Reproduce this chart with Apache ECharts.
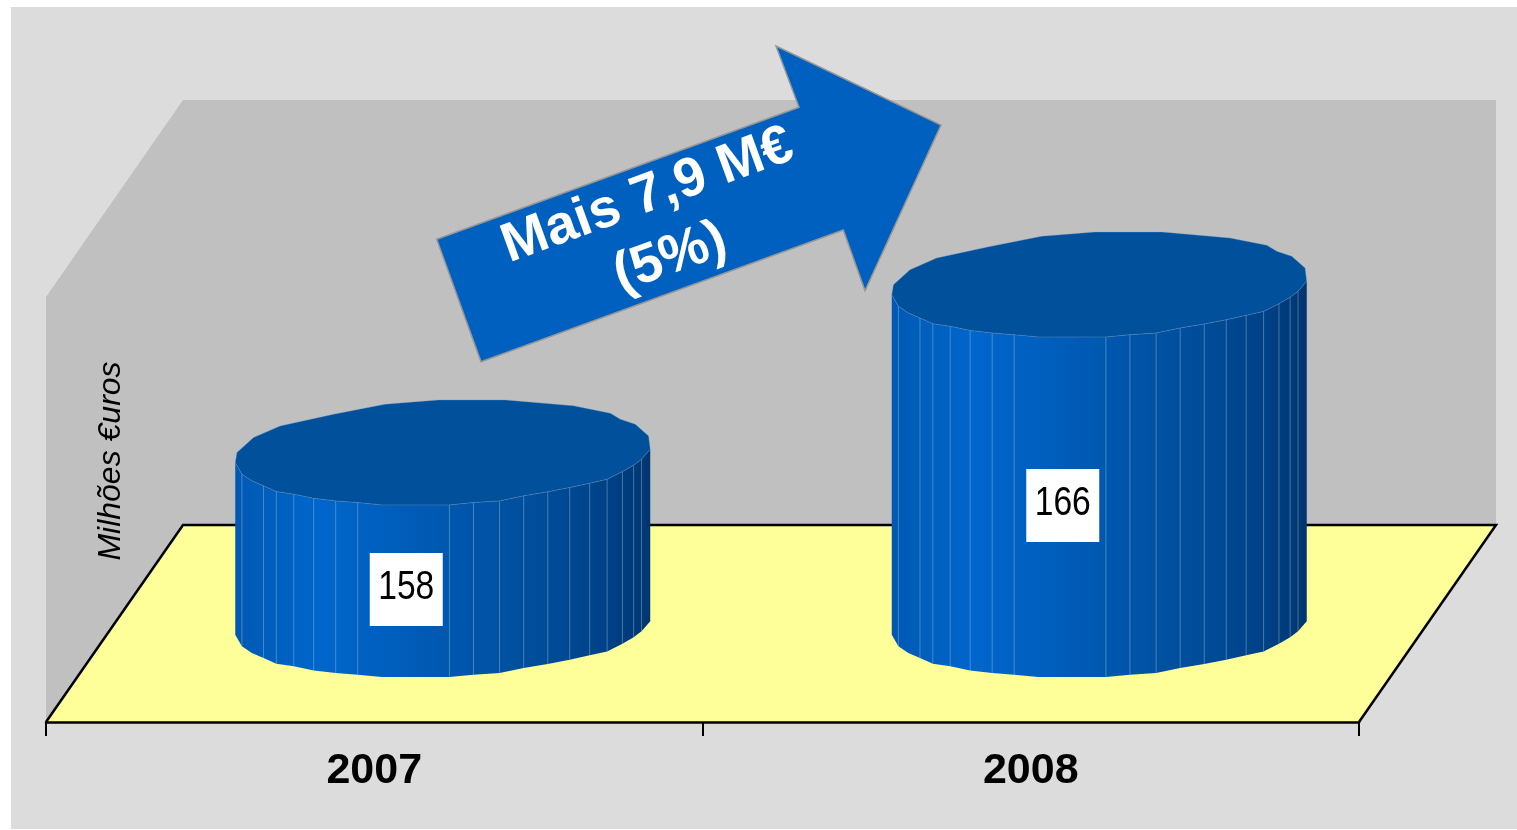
<!DOCTYPE html>
<html>
<head>
<meta charset="utf-8">
<title>Milhões €uros</title>
<script src="https://cdn.jsdelivr.net/npm/echarts@6/dist/echarts.min.js"></script>
<style>
  html, body { margin: 0; padding: 0; background: #fff; }
  #chart { width: 1517px; height: 830px; }
</style>
</head>
<body>
<div id="chart"></div>
<script>
// dados do grafico
var categories = ['2007', '2008'];
var values = [158.1, 166.0];
var axisMin = 150;
var axisMax = 170;

// perspectiva do chao (px)
var DEPTH_X = 137;
var DEPTH_Y = 197;
var CYL_W = 415;
var CYL_H = 105;

// contorno do cilindro (facetado como no original), u/v entre 0 e 1
// [u, v, tem linha]
var frontEdge = [
  [0, .597, 0], [.016, .708, 1], [.04, .771, 0], [.068, .819, 1], [.099, .873, 1], [.141, .898, 1],
  [.189, .937, 1], [.242, .962, 1], [.295, .978, 1], [.353, 1, 0], [.516, 1, 1], [.574, .978, 1],
  [.637, .962, 1], [.695, .914, 1], [.753, .876, 1], [.806, .835, 1], [.854, .794, 1], [.896, .756, 1],
  [.933, .683, 1], [.96, .622, 1], [.979, .565, 1], [1, .47, 0]
];
var backEdge = [
  [.996, .343], [.964, .232], [.928, .184], [.904, .127], [.815, .057], [.651, 0],
  [.49, 0], [.361, .041], [.237, .137], [.108, .248], [.044, .359], [.004, .502]
];

var chart = echarts.init(document.getElementById('chart'));

// paredes e chao
function renderWalls(params, api) {
  var g = params.coordSys;
  var l = g.x, r = g.x + g.width, t = g.y, b = g.y + g.height;
  var backB = b - DEPTH_Y, backL = l + DEPTH_X, backR = r + DEPTH_X, backT = t - DEPTH_Y;
  var lineStyle = { stroke: '#000', lineWidth: 2.5, fill: null };
  return {
    type: 'group',
    children: [
      { type: 'rect', shape: { x: 11, y: 7, width: 1506, height: 822 }, style: { fill: '#dcdcdc' } },
      { type: 'polygon', shape: { points: [[l, b], [backL, backB], [backL, backT], [l, t]] }, style: { fill: '#c0c0c0' } },
      { type: 'rect', shape: { x: backL, y: backT, width: backR - backL, height: backB - backT }, style: { fill: '#c0c0c0' } },
      { type: 'polygon', shape: { points: [[l, b], [r, b], [backR, backB], [backL, backB]] }, style: { fill: '#ffff99' } },
      { type: 'polyline', shape: { points: [[l, b], [backL, backB], [backR, backB], [r, b]] }, style: lineStyle }
    ]
  };
}

// cilindro de cada ano
function renderCylinder(params, api) {
  var base = api.coord([api.value(0), axisMin]);
  var top = api.coord([api.value(0), api.value(1)]);
  var h = base[1] - top[1];
  // centrado a meio da profundidade
  var x0 = base[0] + DEPTH_X / 2 - CYL_W / 2;
  var yBase = base[1] - DEPTH_Y / 2 - CYL_H / 2 + 1;
  var yTop = yBase - h;

  function pt(p, y) { return [x0 + p[0] * CYL_W, y + p[1] * CYL_H]; }

  var topFront = frontEdge.map(function (p) { return pt(p, yTop); });
  var botFront = frontEdge.map(function (p) { return pt(p, yBase); });
  var topBack = backEdge.map(function (p) { return pt(p, yTop); });

  var children = [{
    type: 'polygon',
    shape: { points: topFront.concat(botFront.slice().reverse()) },
    style: {
      fill: new echarts.graphic.LinearGradient(0, 0, 1, 0, [
        { offset: 0, color: '#0059b3' },
        { offset: .2, color: '#0066cc' },
        { offset: .35, color: '#005fbf' },
        { offset: .55, color: '#0056ab' },
        { offset: .75, color: '#004c99' },
        { offset: .9, color: '#004187' },
        { offset: 1, color: '#003670' }
      ])
    }
  }];
  frontEdge.forEach(function (p, i) {
    if (!p[2]) return;
    children.push({
      type: 'line',
      shape: { x1: topFront[i][0], y1: topFront[i][1], x2: botFront[i][0], y2: botFront[i][1] },
      style: { stroke: 'rgba(170,195,220,.42)', lineWidth: 1 }
    });
  });
  children.push({
    type: 'polygon',
    shape: { points: topFront.concat(topBack) },
    style: { fill: '#00509b', stroke: 'rgba(120,160,200,.35)', lineWidth: 1 }
  });

  // etiqueta branca
  var cx = x0 + CYL_W / 2 - 36.5;
  var cy = (yTop + yBase + CYL_H) / 2 + 51;
  children.push({
    type: 'rect',
    shape: { x: cx - 36.5, y: cy - 36.5, width: 73, height: 73 },
    style: { fill: '#fff' }
  });
  children.push({
    type: 'text',
    x: cx,
    y: cy - 2,
    scaleX: 0.82,
    style: {
      text: api.value(1).toFixed(0),
      fill: '#000',
      font: '41px "Liberation Sans", Arial, sans-serif',
      align: 'center',
      verticalAlign: 'middle'
    }
  });
  return { type: 'group', children: children };
}

var seriesData = categories.map(function (c, i) { return [i, values[i]]; });

chart.setOption({
  animation: false,
  backgroundColor: '#fff',
  grid: { left: 46, width: 1313, top: 297, height: 425 },
  xAxis: {
    type: 'category',
    data: categories,
    z: 3,
    axisLine: { lineStyle: { color: '#000', width: 2.5 } },
    axisTick: { show: true, length: 14, alignWithLabel: false, lineStyle: { color: '#000', width: 2 } },
    axisLabel: {
      color: '#000',
      fontFamily: '"Liberation Sans", Arial, sans-serif',
      fontWeight: 'bold',
      fontSize: 43,
      margin: 28
    }
  },
  yAxis: {
    type: 'value',
    min: axisMin,
    max: axisMax,
    show: false
  },
  series: [
    { type: 'custom', z: 1, silent: true, data: [[0, axisMin]], renderItem: renderWalls, clip: false },
    { type: 'custom', z: 4, data: seriesData, encode: { x: 0, y: 1 }, renderItem: renderCylinder, clip: false }
  ],
  graphic: {
    elements: [
      {
        type: 'polygon',
        z: 10,
        shape: {
          points: [[436.7, 239.3], [799, 107.3], [776, 46], [941, 125], [865, 290.7], [843.3, 230], [481, 361.7]]
        },
        style: { fill: '#0060c0', stroke: '#969696', lineWidth: 1.5 }
      },
      {
        type: 'text',
        z: 11,
        x: 659,
        y: 227,
        rotation: 20 * Math.PI / 180,
        style: {
          text: 'Mais 7,9 M€\n(5%)',
          fill: '#fff',
          font: 'bold 55px "Liberation Sans", Arial, sans-serif',
          lineHeight: 66,
          align: 'center',
          verticalAlign: 'middle'
        }
      },
      {
        type: 'text',
        z: 11,
        x: 111,
        y: 461,
        rotation: Math.PI / 2,
        style: {
          text: 'Milhões €uros',
          fill: '#000',
          font: 'italic 32px "Liberation Sans", Arial, sans-serif',
          align: 'center',
          verticalAlign: 'middle'
        }
      }
    ]
  }
});
</script>
</body>
</html>
